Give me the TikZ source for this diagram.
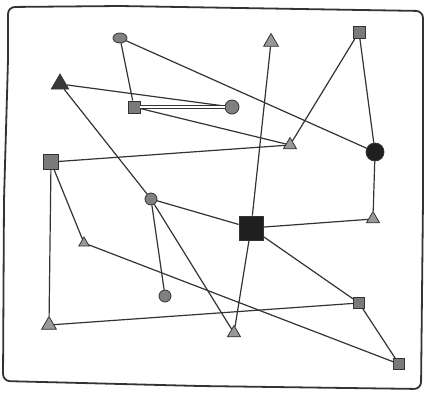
\documentclass[tikz,border=0pt]{standalone}
\usepackage{tikz}
\usetikzlibrary{shapes.geometric}

\begin{document}
\begin{tikzpicture}[
    x=1pt, y=-1pt,
    % Nodos grises con borde oscuro (tamaño como argumento)
    circuloGris/.style={circle, draw=black!80, fill=black!50, line width=0.8pt, inner sep=0pt, minimum size=#1},
    cuadradoGris/.style={rectangle, draw=black!80, fill=black!52, line width=0.8pt, inner sep=0pt, minimum size=#1},
    trianguloGris/.style={regular polygon, regular polygon sides=3, draw=black!80, fill=black!40, line width=0.8pt, inner sep=0pt, minimum size=#1},
    % Nodos negros
    circuloNegro/.style={circuloGris=#1, fill=black!88},
    cuadradoNegro/.style={cuadradoGris=#1, fill=black!88},
    trianguloNegro/.style={trianguloGris=#1, fill=black!78},
    % Aristas y marco
    arista/.style={draw=black!80, line width=1.2pt},
    aristaDoble/.style={arista, line width=0.9pt, double=white, double distance=1.6pt},
    marco/.style={draw=black!80, line width=1.8pt, rounded corners=7pt}
]
    \useasboundingbox (0,0) rectangle (426,392);

    % --- MARCO DIBUJADO A MANO ---
    \draw[marco] (8,60) -- (8,7) -- (120,6) -- (300,9) -- (423,11) -- (423,200)
        -- (421,389) -- (200,386) -- (3,381) -- (4,200) -- cycle;

    % --- DEFINICIÓN DE LOS VÉRTICES ---
    % Fila superior
    \node[ellipse, draw=black!80, fill=black!50, line width=0.8pt, inner sep=0pt,
          minimum width=14pt, minimum height=10pt] (c1) at (120,38) {};
    \node[trianguloGris=17pt]  (t2) at (271,42)  {};
    \node[cuadradoGris=12pt]   (s2) at (359,32)  {};
    \node[trianguloNegro=20pt] (t1) at (60,84)   {};
    \node[cuadradoGris=12pt]   (s1) at (134,107) {};
    \node[circuloGris=14pt]    (c2) at (232,107) {};

    % Fila central
    \node[trianguloGris=15pt]  (t3) at (290,145) {};
    \node[circuloNegro=18pt]   (c3) at (375,152) {};
    \node[cuadradoGris=15pt]   (s3) at (51,162)  {};
    \node[circuloGris=12pt]    (c4) at (151,199) {};
    \node[cuadradoNegro=24pt]  (s4) at (251,228) {};
    \node[trianguloGris=15pt]  (t4) at (373,219) {};
    \node[trianguloGris=12pt]  (t5) at (84,243)  {};

    % Fila inferior
    \node[circuloGris=12pt]    (c5) at (165,296) {};
    \node[cuadradoGris=11pt]   (s5) at (359,303) {};
    \node[trianguloGris=17pt]  (t6) at (49,325)  {};
    \node[trianguloGris=15pt]  (t7) at (234,333) {};
    \node[cuadradoGris=11pt]   (s6) at (399,364) {};

    % --- ARISTAS ---
    \draw[arista] (c1) -- (s1);
    \draw[arista] (c1) -- (c3);
    \draw[arista] (t1) -- (c2);
    \draw[aristaDoble] (s1) -- (c2);
    \draw[arista] (s1) -- (t3);
    \draw[arista] (s3) -- (t3);
    \draw[arista] (t3) -- (s2);
    \draw[arista] (s2) -- (c3);
    \draw[arista] (c3) -- (t4);
    \draw[arista] (t2) -- (s4);
    \draw[arista] (t1) -- (c4);
    \draw[arista] (s3) -- (t6);
    \draw[arista] (s3) -- (t5);
    \draw[arista] (t5) -- (s6);
    \draw[arista] (c4) -- (t7);
    \draw[arista] (c4) -- (s4);
    \draw[arista] (c4) -- (c5);
    \draw[arista] (t6) -- (s5);
    \draw[arista] (s4) -- (t4);
    \draw[arista] (s4) -- (s5);
    \draw[arista] (s4) -- (t7);
    \draw[arista] (s5) -- (s6);

\end{tikzpicture}
\end{document}
